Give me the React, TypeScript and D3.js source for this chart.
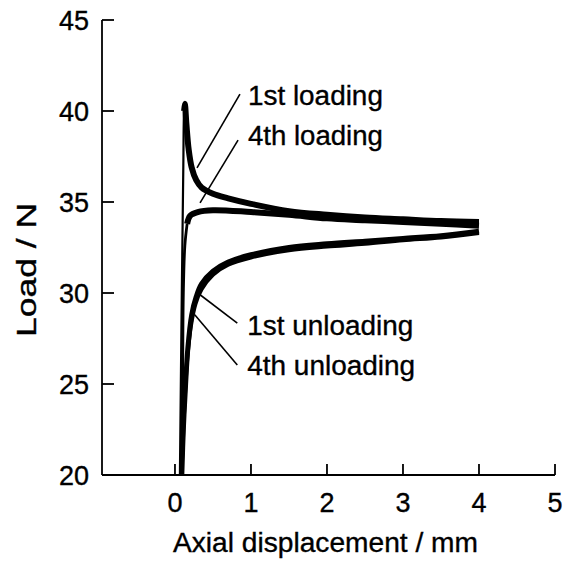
import React from "react";
import * as d3 from "d3";

// x: axial displacement (mm), y: load (N)
const load1X = [0.065, 0.09, 0.11, 0.12, 0.13, 0.15, 0.18, 0.22, 0.28, 0.35, 0.5, 0.7, 1.0, 1.5, 2.0, 2.5, 3.0, 3.5, 4.0];
const load1Y = [20, 30, 37, 40.0, 40.4, 39.3, 37.9, 36.9, 36.2, 35.8, 35.45, 35.2, 34.9, 34.5, 34.3, 34.15, 34.05, 33.95, 33.9];
const load1Rise = 5; // number of points in steep rise

const load4X = [0.085, 0.1, 0.11, 0.13, 0.16, 0.2, 0.3, 0.5, 1.0, 1.5, 2.0, 2.5, 3.0, 3.5, 4.0];
const load4Y = [20, 25, 30, 32.6, 33.8, 34.25, 34.45, 34.55, 34.45, 34.3, 34.1, 34.0, 33.9, 33.8, 33.7];
const load4Rise = 5;

const unload1X = [4.0, 3.5, 3.0, 2.5, 2.0, 1.5, 1.0, 0.7, 0.5, 0.35, 0.28, 0.22, 0.17, 0.14, 0.11, 0.09];
const unload1Y = [33.4, 33.15, 33.0, 32.85, 32.7, 32.5, 32.1, 31.7, 31.2, 30.5, 29.8, 28.8, 27.0, 25.0, 22.5, 20];
const unload4X = [4.0, 3.5, 3.0, 2.5, 2.0, 1.5, 1.0, 0.7, 0.5, 0.35, 0.27, 0.21, 0.16, 0.13, 0.105, 0.085];
const unload4Y = [33.3, 33.05, 32.9, 32.7, 32.55, 32.35, 31.95, 31.55, 31.0, 30.2, 29.4, 28.2, 26.3, 24.3, 22.0, 20];

const xTicks = [0, 1, 2, 3, 4, 5];
const yTicks = [20, 25, 30, 35, 40, 45];

// annotation labels: text, leader start (x,y), leader end (x,y), text anchor (x,y)
const annText = ["1st loading", "4th loading", "1st unloading", "4th unloading"];
const annFrom = [[0.29, 36.87], [0.33, 34.95], [0.30, 30.0], [0.26, 28.8]];
const annTo = [[0.855, 40.93], [0.83, 38.4], [0.82, 28.35], [0.82, 26.04]];
const annPos = [[0.96, 40.33], [0.96, 38.13], [0.95, 27.7], [0.95, 25.5]];
const annWidth = [135, 135, 166, 168];

const W = 571;
const H = 561;
const FONT = "'Liberation Sans', Arial, Helvetica, sans-serif";

export default function App() {
  const x = d3.scaleLinear().domain([-0.96, 5]).range([102, 555]);
  const y = d3.scaleLinear().domain([20, 45]).range([475, 20]);
  const lineX = d3
    .line<number[]>()
    .x((d) => x(d[0]))
    .y((d) => y(d[1]))
    .curve(d3.curveCatmullRom.alpha(0.5));

  const zip = (xs: number[], ys: number[]) => xs.map((v, i) => [v, ys[i]]);
  const l1 = zip(load1X, load1Y);
  const l4 = zip(load4X, load4Y);
  const u1 = zip(unload1X, unload1Y);
  const u4 = zip(unload4X, unload4Y);

  const x0 = x.range()[0];
  const y0 = y.range()[0];

  return (
    <svg
      width={W}
      height={H}
      style={{ position: "absolute", left: 0, top: 0, background: "#fff" }}
      fontFamily={FONT}
    >
      {/* curves */}
      <g fill="none" stroke="#000" strokeLinejoin="round" strokeLinecap="butt">
        <path d={lineX(l1.slice(0, load1Rise)) || ""} strokeWidth={2.2} />
        <path d={lineX(l1.slice(load1Rise - 2)) || ""} strokeWidth={6} />
        <path d={lineX(l4.slice(0, load4Rise)) || ""} strokeWidth={2.8} />
        <path d={lineX(l4.slice(load4Rise - 1)) || ""} strokeWidth={6} />
        <path d={lineX(u1) || ""} strokeWidth={5} />
        <path d={lineX(u4) || ""} strokeWidth={4} />
      </g>

      {/* axes */}
      <g stroke="#000" strokeWidth={1.8} fill="none">
        <line x1={x0} x2={x0} y1={y(45)} y2={y0} />
        <line x1={x0} x2={x(5)} y1={y0} y2={y0} />
        {yTicks.map((t) => (
          <line key={"yt" + t} x1={x0} x2={x0 + 12} y1={y(t)} y2={y(t)} />
        ))}
        {xTicks.map((t) => (
          <line key={"xt" + t} x1={x(t)} x2={x(t)} y1={y0} y2={y0 - 11} />
        ))}
      </g>

      <g fontSize={27} fill="#000" stroke="#000" strokeWidth={0.35}>
        {yTicks.map((t) => (
          <text key={"yl" + t} x={x0 - 13} y={y(t) + 10} textAnchor="end">
            {t}
          </text>
        ))}
        {xTicks.map((t) => (
          <text key={"xl" + t} x={x(t)} y={y0 + 37} textAnchor="middle">
            {t}
          </text>
        ))}
        <text
          x={173}
          y={552}
          textLength={305}
          lengthAdjust="spacingAndGlyphs"
        >
          Axial displacement / mm
        </text>
        <text
          transform={`translate(36, 337) rotate(-90)`}
          x={0}
          y={0}
          fontSize={28}
          textLength={134}
          lengthAdjust="spacingAndGlyphs"
        >
          Load / N
        </text>
      </g>

      {/* annotations */}
      <g>
        {annText.map((t, i) => (
          <g key={t}>
            <line
              x1={x(annFrom[i][0])}
              y1={y(annFrom[i][1])}
              x2={x(annTo[i][0])}
              y2={y(annTo[i][1])}
              stroke="#000"
              strokeWidth={1.6}
            />
            <text
              x={x(annPos[i][0])}
              y={y(annPos[i][1])}
              fontSize={27}
              stroke="#000"
              strokeWidth={0.35}
              textLength={annWidth[i]}
              lengthAdjust="spacingAndGlyphs"
            >
              {t}
            </text>
          </g>
        ))}
      </g>
    </svg>
  );
}
